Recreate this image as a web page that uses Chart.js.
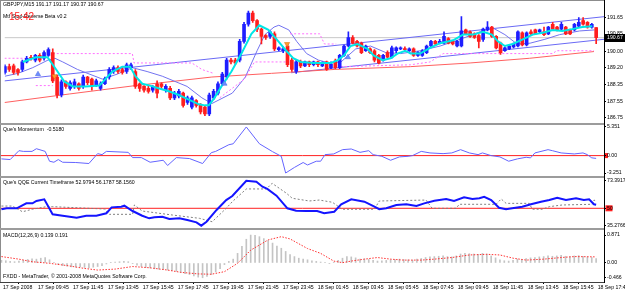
<!DOCTYPE html>
<html><head><meta charset="utf-8">
<script src="https://cdn.jsdelivr.net/npm/chart.js@4.4.1/dist/chart.umd.min.js"></script>
<style>
html,body{margin:0;padding:0;background:#fff;}
#wrap{position:relative;width:625px;height:290px;overflow:hidden;background:#fff}
#wrap canvas{position:absolute;left:0}
.ln{position:absolute;z-index:5}
</style></head><body>
<div id="wrap">
<canvas id="cMain" width="625" height="124" style="top:0"></canvas>
<canvas id="cMom" width="625" height="54" style="top:122px"></canvas>
<canvas id="cQqe" width="625" height="50" style="top:178px"></canvas>
<canvas id="cMacd" width="625" height="60" style="top:230px"></canvas>
<div class="ln" style="left:0;top:0;width:604px;height:1px;background:#8c8c8c"></div>
<div class="ln" style="left:0;top:0;width:1px;height:282px;background:#8c8c8c"></div>
<div class="ln" style="left:0;top:123px;width:604px;height:2px;background:#9c9c9c"></div>
<div class="ln" style="left:0;top:176px;width:604px;height:2px;background:#9c9c9c"></div>
<div class="ln" style="left:0;top:228px;width:604px;height:2px;background:#9c9c9c"></div>
<div class="ln" style="left:0;top:282px;width:605px;height:1px;background:#404040"></div>
<div class="ln" style="left:604px;top:0;width:1px;height:283px;background:#000"></div>
</div>
<script>
// ---------- DATA ----------
const symbol = 'GBPJPY,M15';
const open = [188.97,189.25,189.29,189.11,189.11,189.48,189.71,189.57,189.80,189.66,189.80,189.94,188.74,187.86,188.51,188.18,188.28,188.41,188.28,188.74,188.64,188.37,188.18,188.41,188.74,189.01,189.20,189.11,189.01,189.20,189.01,188.41,188.28,188.18,188.09,188.41,188.41,188.09,188.18,187.72,187.81,187.95,187.49,187.26,187.58,187.35,187.26,186.93,187.72,187.95,188.41,188.74,189.57,189.57,189.57,190.49,191.33,191.88,191.51,191.09,190.77,190.73,190.86,190.08,190.03,190.26,189.57,189.01,189.48,189.29,189.48,189.34,189.48,189.29,189.48,189.20,189.52,189.20,189.80,190.26,190.68,190.49,190.40,190.03,190.12,190.03,189.80,189.57,189.94,189.71,190.03,190.12,190.12,190.03,190.12,189.80,189.80,189.94,190.26,190.49,190.40,190.40,190.63,190.49,190.26,190.26,191.05,190.96,190.86,190.77,190.59,191.05,191.19,190.73,190.40,190.03,190.12,190.22,190.26,190.91,190.31,190.96,191.05,190.96,190.96,190.86,191.33,191.19,191.09,191.19,191.05,191.05,191.23,191.51,191.42,191.19,191.17];
const high = [189.34,189.38,189.38,189.15,189.57,189.75,189.80,189.85,189.89,190.03,190.17,190.12,188.83,188.60,188.55,188.55,188.64,188.46,188.83,188.78,188.69,188.64,188.51,188.74,189.20,189.29,189.29,189.20,189.43,189.43,189.11,188.46,188.32,188.28,188.32,188.55,188.46,188.37,188.28,188.04,188.14,188.00,187.81,187.81,187.63,187.44,187.35,187.95,188.14,188.51,188.97,189.66,189.66,189.66,190.59,191.42,191.97,191.97,191.56,191.14,190.82,191.00,190.96,190.22,190.22,190.36,189.66,189.57,189.57,189.52,189.52,189.52,189.52,189.48,189.52,189.48,189.62,189.85,190.31,190.96,190.77,190.54,190.45,190.31,190.17,190.08,189.85,189.85,190.03,190.26,190.22,190.22,190.22,190.17,190.17,189.99,190.08,190.31,190.54,190.54,190.59,190.96,190.68,190.54,190.54,191.70,191.09,191.00,190.91,190.82,191.14,191.46,191.23,190.77,190.45,190.22,190.31,190.40,191.00,190.96,190.96,191.05,191.09,191.09,191.19,191.23,191.42,191.23,191.42,191.23,191.09,191.37,191.65,191.65,191.46,191.37,191.17];
const low = [188.88,189.01,188.88,188.83,189.01,189.43,189.57,189.48,189.48,189.57,189.75,188.46,187.72,187.77,188.18,188.09,188.18,188.09,188.18,188.37,188.09,188.28,188.09,188.37,188.64,188.92,188.92,188.88,188.92,189.11,188.18,188.04,188.00,187.95,188.00,187.72,188.18,188.00,187.63,187.63,187.72,187.26,187.40,187.17,187.26,186.93,186.84,186.84,187.63,187.86,188.32,188.64,189.38,189.34,189.48,190.40,191.23,191.42,190.96,190.36,190.59,190.63,190.03,190.03,189.94,189.25,189.01,188.92,189.20,189.25,189.25,189.29,189.25,189.25,189.06,189.15,189.15,189.15,189.75,190.22,190.36,190.22,189.89,189.99,189.89,189.48,189.38,189.52,189.66,189.66,189.94,190.08,190.03,189.99,189.75,189.75,189.75,189.89,190.22,190.31,190.36,190.36,190.36,190.31,190.22,190.22,190.82,190.68,190.63,190.17,190.49,191.00,190.68,190.12,189.85,189.99,190.08,190.17,190.22,190.26,190.26,190.82,190.82,190.91,190.77,190.82,191.05,191.00,191.05,190.82,190.82,191.00,191.19,191.28,191.14,191.14,190.37];
const close = [189.25,189.11,188.97,188.97,189.48,189.66,189.66,189.80,189.57,189.94,190.08,188.55,187.86,188.51,188.28,188.46,188.51,188.18,188.74,188.46,188.28,188.55,188.41,188.64,189.11,189.20,189.01,188.97,189.34,189.34,188.28,188.18,188.09,188.04,188.28,187.95,188.28,188.28,187.72,187.95,188.04,187.35,187.72,187.72,187.35,187.03,186.93,187.86,188.04,188.41,188.88,189.57,189.48,189.43,190.49,191.33,191.88,191.51,191.09,190.73,190.68,190.96,190.12,190.17,190.12,189.34,189.11,189.48,189.29,189.48,189.34,189.48,189.34,189.43,189.11,189.38,189.20,189.80,190.26,190.68,190.40,190.26,189.94,190.26,189.94,189.57,189.43,189.80,189.71,190.17,190.17,190.17,190.08,190.12,189.80,189.94,190.03,190.26,190.49,190.36,190.49,190.73,190.40,190.36,190.49,191.00,190.86,190.73,190.68,190.49,191.09,191.19,190.73,190.17,189.94,190.17,190.26,190.36,190.96,190.31,190.91,190.86,190.86,191.05,190.82,191.19,191.09,191.05,191.33,190.86,190.86,191.33,191.42,191.33,191.19,191.33,190.67];

const cyanX = [4.1,7.1,9.8,12.1,13.7,15.6,18.5,21.7,23.1,24.7,27,28.8,30,31.6,33.4,35.5,37.7,40,42.3,44.6,46,46.9,48.2,49.8,52.1,54.4,56.7,58.5,60.6,62.9,64.7,66.3,68.1,71.1,75,76.6,78,79.5,81.1,83.4,84.8,86.9,88.7,90.3,92.1,93.3,95.5,97.8,100.1,103.1,105.4,107.7,110,112,113.4,115,116.8,119.1,121.4,123.7,126,128.2,130.5,132.8,135.1];
const cyanY = [189.48,189.71,189.71,189.01,188.51,188.28,188.28,188.32,188.64,189.01,189.25,189.25,188.78,188.41,188.32,188.18,188.04,187.86,187.63,187.40,187.35,187.35,187.72,188.28,189.01,189.89,190.86,191.28,191.05,190.49,190.03,189.66,189.48,189.43,189.43,189.57,189.80,190.26,190.36,190.12,189.80,189.57,189.66,189.89,190.03,189.89,189.89,190.17,190.40,190.54,190.82,190.82,190.96,190.82,190.49,190.26,190.36,190.59,190.82,190.91,191.05,191.00,191.09,191.19,191.23];

const maX = [0,3,6.4,9.9,11.5,13.3,16.7,22.4,25.8,29.3,32.7,36.2,41.9,45.3,47.6,52.3,55.3,58,59.8,61.9,63,65.3,67.1,69.4,72.1,74.6,77.3,80.7,84.1,87.6,91,95.6,100.1,104.7,109.3,112.3,115,117.8,120.8,124.2,127.6,132.2,135.6];
const maY = [188.78,188.92,189.20,189.57,189.66,189.48,189.11,188.64,188.88,189.20,189.01,188.78,188.28,187.72,187.44,187.95,188.74,190.03,190.82,191.19,191.28,191.05,190.49,189.89,189.57,189.43,189.48,190.12,190.26,189.94,189.89,190.03,190.26,190.59,190.96,191.14,190.82,190.36,190.40,190.59,190.82,191.00,191.05];

const redX = [-0.1,14.9,30,47.6,61.3,75.7,93.3,107,120.7,135.5];
const redY = [187.49,187.91,188.32,188.74,188.92,189.11,189.25,189.43,189.66,189.99];

const stopHiX = [-0.1,6,6.5,11,29.3,29.7,43,45.3,48,48.5,65.6,72.4,73.5,76.2];
const stopHiY = [189.66,189.66,null,189.89,189.89,189.43,189.43,189.11,188.92,null,190.86,190.86,190.36,190.36];
const stopLoX = [7.1,11,11.5,49.4,55.1,57.4,65.4,65.9,77.3,93.3,97.8,100.8,126,126.9,135.5];
const stopLoY = [188.32,188.32,null,187.72,188.64,189.48,189.48,null,189.25,189.34,189.48,189.89,189.89,190.03,190.03];

const chanUpX = [-0.1,137.8], chanUpY = [188.55,191.70];
const chanLoX = [65.8,137.8], chanLoY = [188.95,190.59];

const buyX = [7.6,50.5,78.9], buyY = [188.88,188.41,189.71];
const sellX = [11.4,64.9], sellY = [188.78,190.36];

const mainTicks = [191.65,190.85,190.00,189.20,188.35,187.55,186.75];

const momX = [0,2,4,5,7,8,10,11,12,13,14,17,20,22,23,24,29,30,32,34,37,38,40,43,46,48,49,52,53,56,59,62,64,65,67,69,70,72,73,74,76,78,80,82,84,85,87,89,91,93,94,96,98,101,103,105,107,109,110,112,114,116,118,120,121,122,125,126,128,131,133,134,135,136];
const momY = [-0.61,-0.74,0.92,0.79,0.79,1.29,0.79,-1.05,-1.24,-0.74,-1.24,-1.29,-1.48,0.37,0.18,0.79,0.61,-0.37,-0.37,-1.24,-0.87,-1.85,-0.37,-0.55,-1.48,0.55,0.79,2.03,2.21,5.351,2.21,0.74,-0.13,-3.251,-2.21,-1.29,-1.75,-1.05,-1.05,0.18,0.31,1.11,1.24,0.61,0.92,0.18,-0.13,-0.87,-0.24,-0.13,0,0.79,0.5,0.37,0.5,1.11,0.5,0.18,0.5,0,-0.24,-1.05,-0.61,-0.31,-0.42,0.5,1.11,0.92,0.5,0.31,0.5,0.18,-0.42,-0.518];
const momTicks = [5.351,0,-3.251], momTickLabels = ['5.351','0.00','-3.251'];

const qqeX = [0,1.2,3.5,5.7,7.1,8,9.8,11.7,14,17.2,19.4,21.7,24,25.2,27.4,28.1,30,32.2,33.8,35,36.8,38.4,40.7,42.5,44.6,45.7,46.9,49.2,51.4,52.8,56,58.3,59.7,60.8,62.9,65.4,67.4,69.7,72.2,73.8,76.1,77.7,80,83,85.3,86.4,88,90.3,92.6,94.9,96.7,99,101.7,103.5,105.8,107.7,109.3,110.4,112,113.8,115.4,116.8,119.1,121.1,123.4,125.3,127.1,129.1,131.4,133.2,134.4,135.5,136];
const qqeY = [49.15,50.0,50.0,54.2,54.2,56.2,57.6,44.9,43.7,42.0,43.7,43.7,45.8,50.8,51.4,52.2,47.7,43.7,41.5,42.4,42.9,40.9,41.5,40.1,38.1,35.28,38.6,48.6,57.0,60.4,73.39,72.5,68.3,66.4,60.7,50.0,48.0,47.7,47.7,45.8,47.1,53.4,57.6,55.6,51.4,49.2,50.0,52.8,53.4,51.9,54.2,56.4,57.9,56.2,59.3,57.9,58.5,59.8,57.0,50.5,49.2,50.0,51.4,53.4,55.6,57.0,59.0,57.0,58.5,57.0,57.6,53.4,52.98];
const trailX = [0,2.5,4.8,7.1,10.3,11.7,23.6,24.7,30,30.4,32.2,39.1,45.3,48.2,51.4,52.8,56,60.6,61.9,65.2,66.5,70.4,72.7,75.7,77.9,85.3,86.4,97.1,98.5,104,104.7,113.1,114.3,115.4,120.7,121.4,123.7,125.3,128.2,135.1,135.5,136];
const trailY = [51.9,51.9,47.1,49.2,51.4,51.4,49.4,44.9,44.9,52.8,47.7,44.3,41.5,38.6,50.0,55.6,66.4,66.4,71.2,62.7,58.5,56.2,57.0,55.1,49.2,49.2,56.2,57.0,50.0,50.0,53.4,53.4,57.9,54.2,54.2,49.2,49.2,51.4,52.8,53.4,57.0,56.18];
const qqeTicks = [73.3917,50,35.2766], qqeTickLabels = ['73.3917','50','35.2766'];

const macdHist = [0.08,0.07,0.05,0.04,0.06,0.09,0.11,0.13,0.12,0.15,0.17,0.10,0.02,-0.05,-0.08,-0.10,-0.12,-0.13,-0.12,-0.14,-0.15,-0.13,-0.11,-0.08,-0.03,0.01,0.03,0.04,0.05,0.04,-0.02,-0.07,-0.11,-0.14,-0.15,-0.18,-0.19,-0.20,-0.22,-0.24,-0.26,-0.30,-0.33,-0.36,-0.40,-0.44,-0.46,-0.42,-0.36,-0.28,-0.18,-0.05,0.05,0.12,0.30,0.52,0.74,0.87,0.86,0.82,0.76,0.70,0.62,0.53,0.46,0.36,0.26,0.20,0.15,0.12,0.10,0.07,0.05,0.03,0.01,-0.01,0.02,0.08,0.15,0.20,0.19,0.16,0.12,0.13,0.11,0.08,0.06,0.07,0.08,0.10,0.11,0.12,0.11,0.10,0.09,0.12,0.14,0.17,0.19,0.20,0.21,0.22,0.20,0.19,0.22,0.28,0.30,0.29,0.28,0.27,0.30,0.28,0.22,0.16,0.10,0.07,0.06,0.08,0.12,0.11,0.14,0.16,0.17,0.19,0.20,0.22,0.21,0.22,0.24,0.21,0.20,0.22,0.23,0.21,0.19,0.17,0.139];
const sigX = [0,4,7,11,15,19,22,26,30,34,38,41,45,48,51,54,57,61,64,66,70,73,76,78,80,83,86,89,92,96,99,103,107,111,114,117,120,124,128,131,136];
const sigY = [0.20,0.12,0.04,-0.01,-0.08,-0.17,-0.22,-0.19,-0.11,-0.15,-0.22,-0.29,-0.34,-0.35,-0.27,-0.01,0.40,0.72,0.82,0.75,0.45,0.30,0.06,0.01,0.06,0.12,0.17,0.12,0.09,0.09,0.12,0.17,0.25,0.27,0.25,0.15,0.09,0.12,0.17,0.20,0.191];
const macdTicks = [0.871,0,-0.466], macdTickLabels = ['0.871','0.00','-0.466'];

const timeLabels = ['17 Sep 2008','17 Sep 09:45','17 Sep 11:45','17 Sep 13:45','17 Sep 15:45','17 Sep 17:45','17 Sep 19:45','17 Sep 21:45','17 Sep 23:45','18 Sep 01:45','18 Sep 03:45','18 Sep 05:45','18 Sep 07:45','18 Sep 09:45','18 Sep 11:45','18 Sep 13:45','18 Sep 15:45','18 Sep 17:45'];
const barsPerLabel = 8;

// ---------- RENDERING ----------
const FAM = "'Liberation Sans', Arial, sans-serif";
const FS = 5.2;
const FONT = FS + 'px ' + FAM;
Chart.defaults.font.family = FAM;
Chart.defaults.font.size = FS;
Chart.defaults.color = '#000';
const X_MIN = -0.1, X_MAX = 137.8;
const UP = '#1e1eff', DN = '#ff1e1e';
const zip = (xs, ys) => xs.map((x, k) => ({x, y: ys[k]}));
const last = close.length - 1;

function xHidden() {
  return {type: 'linear', min: X_MIN, max: X_MAX, offset: false, display: false};
}
function yAxis(min, max, ticks, labels) {
  return {
    position: 'right', min, max,
    afterBuildTicks: s => { s.ticks = ticks.map(v => ({value: v})); },
    afterFit: s => { s.width = 21; s.paddingTop = 0; s.paddingBottom = 0; },
    grid: {display: true, drawOnChartArea: false, drawTicks: true, tickLength: 2, color: '#000'},
    border: {display: false},
    ticks: {padding: 1, autoSkip: false, callback: (v, i) => labels[i], color: '#000', font: {size: FS}}
  };
}
function line(data, color, width, dash, order) {
  return {type: 'line', data, borderColor: color, borderWidth: width, borderDash: dash || [],
    pointRadius: 0, tension: 0, spanGaps: false, fill: false, order};
}
function textPlugin(items, boxes, after) {
  return {
    id: 'paneText',
    beforeDraw(chart) {
      const c = chart.ctx; c.save();
      (boxes || []).forEach(b => {
        const y = chart.scales.y.getPixelForValue(b.value);
        c.fillStyle = b.color; c.fillRect(b.x, y - b.h / 2, b.w, b.h);
      });
      c.restore();
    },
    afterDraw(chart) {
      const c = chart.ctx; c.save();
      c.textBaseline = 'middle'; c.textAlign = 'left';
      items.forEach(t => { c.font = t.font || FONT; c.fillStyle = t.color || '#000'; c.fillText(t.text, t.x, t.y); });
      if (after) after(chart, c);
      c.restore();
    }
  };
}
const baseOpts = (padTop, padBottom) => ({
  responsive: false, animation: false, devicePixelRatio: 1,
  layout: {padding: {left: 1, right: 0, top: padTop, bottom: padBottom}},
  plugins: {legend: {display: false}, tooltip: {enabled: false}},
  events: []
});

// ----- main pane -----
const idx = close.map((_, i) => i);
const candleColor = ctx => close[ctx.dataIndex] >= open[ctx.dataIndex] ? UP : DN;
const mainOpts = baseOpts(1, 1);
mainOpts.scales = {x: xHidden(), y: yAxis(186.657, 192.297, mainTicks, mainTicks.map(v => v.toFixed(2)))};
const header = `${symbol} ${open[last].toFixed(2)} ${high[last].toFixed(2)} ${low[last].toFixed(2)} ${close[last].toFixed(2)}`;
new Chart(document.getElementById('cMain'), {
  type: 'bar',
  data: {datasets: [
    {type: 'scatter', data: zip(buyX, buyY), pointStyle: 'triangle', pointRadius: 3, backgroundColor: '#6f8fff', borderColor: '#3f5fdf', borderWidth: 0.5, order: 0},
    {type: 'scatter', data: zip(sellX, sellY), pointStyle: 'triangle', rotation: 180, pointRadius: 3, backgroundColor: '#ff9a30', borderColor: '#e07000', borderWidth: 0.5, order: 0},
    line(zip(cyanX, cyanY), '#00e6e6', 2, null, 1),
    {type: 'bar', data: idx.map(i => ({x: i, y: [open[i], close[i]]})), grouped: false, barThickness: 3, maxBarThickness: 3, minBarLength: 1, backgroundColor: candleColor, borderWidth: 0, order: 2},
    {type: 'bar', data: idx.map(i => ({x: i, y: [low[i], high[i]]})), grouped: false, barThickness: 1, maxBarThickness: 1, backgroundColor: candleColor, borderWidth: 0, order: 3},
    line(zip(stopHiX, stopHiY), '#ff70ff', 1, [2, 2], 4),
    line(zip(stopLoX, stopLoY), '#ff70ff', 1, [2, 2], 4),
    line(zip(maX, maY), '#7373f0', 1, null, 5),
    line(zip(redX, redY), '#ff6060', 1, null, 6),
    line(zip(chanUpX, chanUpY), '#6a6af5', 1, null, 7),
    line(zip(chanLoX, chanLoY), '#6a6af5', 1, null, 7),
    line(zip([X_MIN, X_MAX], [close[last], close[last]]), '#c8c8c8', 1, null, 8)
  ]},
  options: mainOpts,
  plugins: [textPlugin([
    {text: header, x: 3, y: 5},
    {text: 'Mtf Stop-Reverse Beta v0.2', x: 3, y: 17},
    {text: '15:42', x: 9, y: 17, color: '#ff2020', font: '10px ' + FAM}
  ], null, (chart, c) => {
    const y = chart.scales.y.getPixelForValue(close[last]);
    c.fillStyle = '#000'; c.fillRect(605, Math.round(y) - 4, 20, 8);
    c.fillStyle = '#fff'; c.font = FONT; c.fillText(close[last].toFixed(2), 607, Math.round(y));
  })]
});

// ----- momentum pane (canvas top 122, chart area 125..176) -----
const momOpts = baseOpts(3, 0);
momOpts.scales = {x: xHidden(), y: yAxis(-3.81, 5.72, momTicks, momTickLabels)};
new Chart(document.getElementById('cMom'), {
  type: 'line',
  data: {datasets: [
    line(zip(momX, momY), '#6464ff', 1, null, 0),
    line(zip([X_MIN, X_MAX], [0, 0]), '#ff2020', 1, null, 1)
  ]},
  options: momOpts,
  plugins: [textPlugin([{text: "Que's Momentum  " + momY[momY.length - 1].toFixed(4), x: 3, y: 8}],
    [{value: 0, x: 605, w: 3, h: 5, color: '#ff2020'}])]
});

// ----- QQE pane -----
const qqeOpts = baseOpts(0, 0);
qqeOpts.scales = {x: xHidden(), y: yAxis(33.31, 75.68, qqeTicks, qqeTickLabels)};
new Chart(document.getElementById('cQqe'), {
  type: 'line',
  data: {datasets: [
    line(zip(qqeX, qqeY), '#1414ff', 2, null, 0),
    line(zip(trailX, trailY), '#808080', 1, [2, 2], 1),
    line(zip([X_MIN, X_MAX], [50, 50]), '#ff2020', 1, null, 2)
  ]},
  options: qqeOpts,
  plugins: [textPlugin([{text: "Que's QQE Current Timeframe 52.9794 56.1787 58.1560", x: 3, y: 5}],
    [{value: 50, x: 605.5, w: 7, h: 6, color: '#ff2020'}])]
});

// ----- MACD pane -----
const macdOpts = baseOpts(0, 0);
macdOpts.scales = {
  x: {type: 'linear', min: X_MIN, max: X_MAX, offset: false, display: true,
    afterBuildTicks: s => { s.ticks = timeLabels.map((_, k) => ({value: k * barsPerLabel})); },
    afterFit: s => { s.height = 8; s.paddingLeft = 0; s.paddingRight = 0; },
    grid: {display: true, drawOnChartArea: false, drawTicks: true, tickLength: 2, color: '#000'},
    border: {display: false},
    ticks: {autoSkip: false, maxRotation: 0, minRotation: 0, align: 'start', labelOffset: 1.5, padding: 0,
      callback: (v, i) => timeLabels[i], color: '#000', font: {size: FS}}},
  y: yAxis(-0.592, 1.028, macdTicks, macdTickLabels)
};
new Chart(document.getElementById('cMacd'), {
  type: 'bar',
  data: {datasets: [
    line(zip(sigX, sigY), '#ff3030', 1, [1.5, 1.5], 0),
    {type: 'bar', data: macdHist.map((v, i) => ({x: i, y: v})), grouped: false, barThickness: 1, maxBarThickness: 1, backgroundColor: '#c4c4c4', borderWidth: 0, order: 1}
  ]},
  options: macdOpts,
  plugins: [textPlugin([
    {text: `MACD(12,26,9) ${macdHist[last].toFixed(3)} ${sigY[sigY.length - 1].toFixed(3)}`, x: 3, y: 6},
    {text: 'FXDD - MetaTrader, \u00a9 2001-2008 MetaQuotes Software Corp.', x: 3, y: 47}
  ])]
});
</script>
</body></html>
